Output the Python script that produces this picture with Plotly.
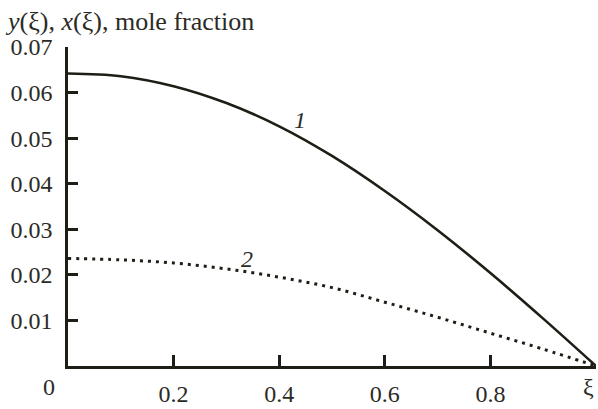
import plotly.graph_objects as go

xi = [0.0, 0.1, 0.2, 0.3, 0.4, 0.5, 0.6, 0.7, 0.8, 0.9, 1.0]
y1 = [0.0642, 0.0636, 0.0614, 0.0577, 0.0526, 0.0461, 0.0384, 0.0298, 0.0204, 0.0104, 0.0]
y2 = [0.0236, 0.0233, 0.0226, 0.0213, 0.0195, 0.0172, 0.0140, 0.0107, 0.0072, 0.0037, 0.0]

xticks = [0.2, 0.4, 0.6, 0.8]
xtick_labels = ["0.2", "0.4", "0.6", "0.8"]
yticks = [0.01, 0.02, 0.03, 0.04, 0.05, 0.06, 0.07]
ytick_labels = ["0.01", "0.02", "0.03", "0.04", "0.05", "0.06", "0.07"]

ink = "#1e1e16"
txt = "#2b2b25"
font = "'Liberation Serif', 'Times New Roman', serif"
fs = 24

fig = go.Figure()
fig.add_trace(go.Scatter(x=xi, y=y1, mode="lines", line=dict(color=ink, width=2.6, shape="spline", smoothing=1.0),
                         showlegend=False, cliponaxis=False))
fig.add_trace(go.Scatter(x=xi, y=y2, mode="lines", line=dict(color=ink, width=3, shape="spline", smoothing=1.0,
                                                             dash="3px,5px"),
                         showlegend=False, cliponaxis=False))

fig.update_layout(
    width=598, height=409,
    margin=dict(l=68, r=2, t=47, b=37),
    paper_bgcolor="white", plot_bgcolor="white",
    font=dict(family=font, size=fs, color=txt),
    xaxis=dict(range=[0, 1], showgrid=False, zeroline=False, showline=True, linecolor=ink, linewidth=2.5,
               tickmode="array", tickvals=xticks, ticktext=xtick_labels, ticks="inside", ticklen=11,
               tickwidth=2.5, tickcolor=ink, ticklabelstandoff=4,
               tickfont=dict(family=font, size=fs, color=txt)),
    yaxis=dict(range=[0, 0.07], showgrid=False, zeroline=False, showline=True, linecolor=ink, linewidth=2.5,
               tickmode="array", tickvals=yticks, ticktext=ytick_labels, ticks="inside", ticklen=10,
               tickwidth=2.5, tickcolor=ink, ticklabelstandoff=8,
               tickfont=dict(family=font, size=fs, color=txt)),
    annotations=[
        dict(xref="paper", yref="paper", x=-0.123, y=1.0, yanchor="bottom", xanchor="left", yshift=9,
             text="<i>y</i>(ξ), <i>x</i>(ξ), mole fraction", showarrow=False,
             font=dict(family=font, size=26, color=txt)),
        dict(xref="paper", yref="paper", x=-0.036, y=0, yanchor="top", xanchor="center", yshift=-6,
             text="0", showarrow=False, font=dict(family=font, size=fs, color=txt)),
        dict(xref="x", yref="paper", x=0.985, y=0, yanchor="top", xanchor="center", yshift=-6,
             text="ξ", showarrow=False, font=dict(family=font, size=fs, color=txt)),
        dict(xref="x", yref="y", x=0.44, y=0.0539, xanchor="center", yanchor="middle",
             text="<i>1</i>", showarrow=False, font=dict(family=font, size=fs, color=txt)),
        dict(xref="x", yref="y", x=0.339, y=0.0235, xanchor="center", yanchor="middle",
             text="<i>2</i>", showarrow=False, font=dict(family=font, size=fs, color=txt)),
    ],
)

fig.write_html("out.html", config={"displayModeBar": False},
               post_script="document.body.style.margin='0';document.body.style.overflow='hidden';")
